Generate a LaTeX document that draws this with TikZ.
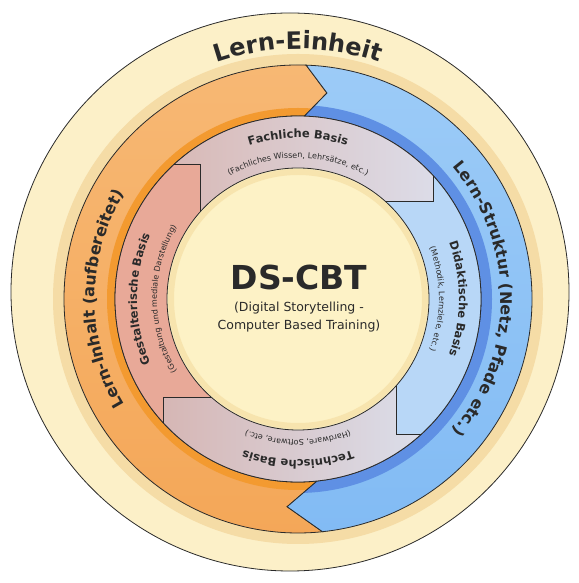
\documentclass[tikz,border=0pt]{standalone}
\usepackage{fontspec}
\setmainfont{DejaVu Sans}
\setsansfont{DejaVu Sans}
\usetikzlibrary{decorations.text}

\definecolor{paleband}{HTML}{FCF0C8}
\definecolor{tanband}{HTML}{F5DCA6}
\definecolor{orangelight}{HTML}{F7B874}
\definecolor{orangearrow}{HTML}{F4A758}
\definecolor{orangedeep}{HTML}{F39A30}
\definecolor{bluelight}{HTML}{9CCBF7}
\definecolor{bluearrow}{HTML}{82BBF4}
\definecolor{bluedeep}{HTML}{5F90E4}
\definecolor{inkline}{HTML}{2A2A2A}
\definecolor{corecream}{HTML}{FDF2C6}
\definecolor{coreedge}{HTML}{F7E4AE}
\definecolor{gestaltpink}{HTML}{E8A998}
\definecolor{fachpink}{HTML}{D8B1AA}
\definecolor{fachblue}{HTML}{DDE3F2}
\definecolor{didaktblue}{HTML}{B8D7F7}
\definecolor{technpink}{HTML}{D5AEA9}
\definecolor{technblue}{HTML}{DCE8F8}

\newcommand{\ringfont}{\fontsize{24}{28}\selectfont\bfseries}
\newcommand{\bandfont}{\fontsize{16}{19}\selectfont\bfseries}
\newcommand{\basefont}{\fontsize{11.5}{14}\selectfont\bfseries}
\newcommand{\notefont}{\fontsize{8}{10}\selectfont}

% shapes, relative to the centre of the inner rings
\newcommand{\orangeshape}{(88:234) arc[start angle=88, end angle=276, radius=234pt] -- (267:208) -- (276:183) arc[start angle=276, end angle=88, radius=183pt] -- (82:208) -- cycle}
\newcommand{\blueshape}{(88:234) arc[start angle=88, end angle=-84, radius=234pt] -- (-93:208) -- (-84:183) arc[start angle=-84, end angle=88, radius=183pt] -- (82:208) -- cycle}
\newcommand{\segshape}{(-300,135) -- (-98,135) -- (-98,0) -- (0,0) -- (0,98) -- (135,98) -- (135,300) -- (-300,300) -- cycle}

\tikzset{
  outline/.style={draw=inkline, line width=0.8pt},
  curvedlabel/.style 2 args={decorate, decoration={text along path, text align=center, text color=inkline, text={|#1|#2}}},
}

\begin{document}
\begin{tikzpicture}[x=1pt,y=1pt]
  \useasboundingbox (0,0) rectangle (578,583);
  % Lern-Einheit
  \fill[paleband] (290,291) circle (279pt);
  \draw[outline] (290,291) circle (279pt);
  \begin{scope}[shift={(298,284)}]
    \fill[tanband] (0,0) circle (245pt);
    % Lern-Inhalt arrow
    \shade[top color=orangelight, bottom color=orangearrow] \orangeshape;
    \begin{scope}
      \clip \orangeshape;
      \fill[orangedeep, even odd rule] (0,0) circle (191pt) (0,0) circle (183pt);
    \end{scope}
    \draw[outline] \orangeshape;
    % Lern-Struktur arrow
    \shade[top color=bluelight, bottom color=bluearrow] \blueshape;
    \begin{scope}
      \clip \blueshape;
      \fill[bluedeep, even odd rule] (0,0) circle (194pt) (0,0) circle (183pt);
    \end{scope}
    \draw[outline] \blueshape;
    % four bases
    \begin{scope}
      \clip (0,0) circle (183pt);
      \begin{scope}
        \clip \segshape;
        \shade[left color=fachpink, right color=fachblue] (-190,-190) rectangle (190,190);
      \end{scope}
      \begin{scope}[rotate=-90]
        \clip \segshape;
        \fill[didaktblue] (-190,-190) rectangle (190,190);
      \end{scope}
      \begin{scope}
        \clip (300,-135) -- (98,-135) -- (98,0) -- (0,0) -- (0,-98) -- (-135,-98) -- (-135,-300) -- (300,-300) -- cycle;
        \shade[left color=technpink, right color=technblue] (-190,-190) rectangle (190,190);
      \end{scope}
      \begin{scope}[rotate=90]
        \clip \segshape;
        \fill[gestaltpink] (-190,-190) rectangle (190,190);
      \end{scope}
      \foreach \turn in {0,-90,180,90}
        \draw[outline, rotate=\turn] (-300,135) -- (-98,135) -- (-98,0);
    \end{scope}
    \draw[outline] (0,0) circle (183pt);
    % DS-CBT core
    \fill[corecream] (0,0) circle (131pt);
    \draw[coreedge, line width=6pt] (0,0) circle (127pt);
    \draw[outline] (0,0) circle (131pt);
    \node[font=\fontsize{33}{36}\selectfont\bfseries, text=inkline, anchor=base, inner sep=0pt] (core title) at (1,9) {DS-CBT};
    \node[font=\fontsize{12.5}{15}\selectfont, text=inkline, anchor=base, inner sep=0pt] (core line1) at (1,-13) {(Digital Storytelling -};
    \node[font=\fontsize{12.5}{15}\selectfont, text=inkline, anchor=base, inner sep=0pt] (core line2) at (1,-31) {Computer Based Training)};
    % curved labels
    \path[curvedlabel={\ringfont}{Lern-Einheit}] (150:250) arc[start angle=150, end angle=30, radius=250pt];
    \path[curvedlabel={\bandfont}{Lern-Inhalt (aufbereitet)}] (240:203) arc[start angle=240, end angle=120, radius=203pt];
    \path[curvedlabel={\bandfont}{Lern-Struktur (Netz, Pfade etc.)}] (60:203) arc[start angle=60, end angle=-60, radius=203pt];
    \path[curvedlabel={\basefont}{Fachliche Basis}] (150:161) arc[start angle=150, end angle=30, radius=161pt];
    \path[curvedlabel={\notefont}{(Fachliches Wissen, Lehrsätze, etc.)}] (150:141) arc[start angle=150, end angle=30, radius=141pt];
    \path[curvedlabel={\basefont}{Didaktische Basis}] (60:161) arc[start angle=60, end angle=-60, radius=161pt];
    \path[curvedlabel={\notefont}{(Methodik, Lernziele, etc.)}] (60:141) arc[start angle=60, end angle=-60, radius=141pt];
    \path[curvedlabel={\basefont}{Technische Basis}] (-30:161) arc[start angle=-30, end angle=-150, radius=161pt];
    \path[curvedlabel={\notefont}{(Hardware, Software, etc.)}] (-30:141) arc[start angle=-30, end angle=-150, radius=141pt];
    \path[curvedlabel={\basefont}{Gestalterische Basis}] (240:161) arc[start angle=240, end angle=120, radius=161pt];
    \path[curvedlabel={\notefont}{(Gestaltung und mediale Darstellung)}] (240:141) arc[start angle=240, end angle=120, radius=141pt];
  \end{scope}
\end{tikzpicture}
\end{document}
